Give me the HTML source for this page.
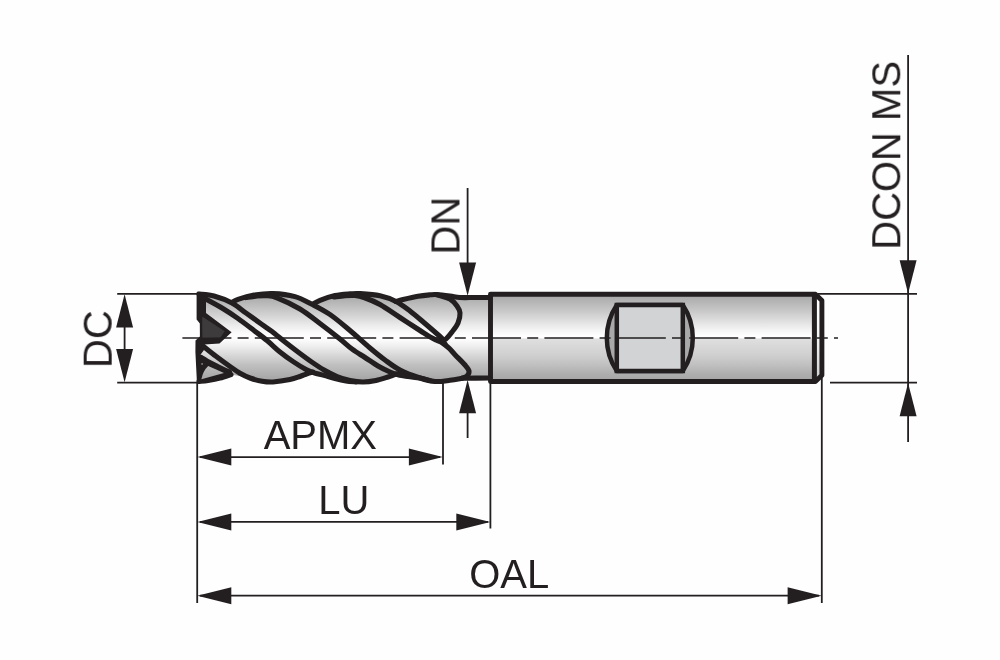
<!DOCTYPE html>
<html><head><meta charset="utf-8"><title>End mill dimensions</title>
<style>
html,body{margin:0;padding:0;background:#fefefe;}
body{width:1000px;height:660px;overflow:hidden;}
svg{display:block;}
text{font-family:"Liberation Sans",sans-serif;fill:#231f20;}
</style></head><body>
<svg width="1000" height="660" viewBox="0 0 1000 660">
<defs>
<linearGradient id="g" gradientUnits="userSpaceOnUse" x1="0" y1="292" x2="0" y2="384">
<stop offset="0" stop-color="#a5a5a6"/>
<stop offset="0.043" stop-color="#a8a8a9"/>
<stop offset="0.13" stop-color="#bababb"/>
<stop offset="0.196" stop-color="#c6c6c7"/>
<stop offset="0.30" stop-color="#dcdcdd"/>
<stop offset="0.41" stop-color="#f3f3f3"/>
<stop offset="0.48" stop-color="#ffffff"/>
<stop offset="0.497" stop-color="#ffffff"/>
<stop offset="0.512" stop-color="#dfdfe0"/>
<stop offset="0.576" stop-color="#d9d9da"/>
<stop offset="0.685" stop-color="#d0d0d1"/>
<stop offset="0.79" stop-color="#c0c0c1"/>
<stop offset="0.88" stop-color="#b0b0b1"/>
<stop offset="0.95" stop-color="#a6a6a7"/>
<stop offset="1" stop-color="#a2a2a3"/>
</linearGradient>
<linearGradient id="g2" gradientUnits="userSpaceOnUse" x1="0" y1="292" x2="0" y2="384">
<stop offset="0" stop-color="#a5a5a6"/>
<stop offset="0.043" stop-color="#a8a8a9"/>
<stop offset="0.13" stop-color="#bababb"/>
<stop offset="0.25" stop-color="#d2d2d3"/>
<stop offset="0.36" stop-color="#ebebec"/>
<stop offset="0.45" stop-color="#fbfbfb"/>
<stop offset="0.5" stop-color="#ffffff"/>
<stop offset="0.54" stop-color="#f8f8f8"/>
<stop offset="0.6" stop-color="#ececec"/>
<stop offset="0.685" stop-color="#d8d8d9"/>
<stop offset="0.79" stop-color="#c0c0c1"/>
<stop offset="0.935" stop-color="#a8a8a9"/>
<stop offset="1" stop-color="#a2a2a3"/>
</linearGradient>
<linearGradient id="g3" gradientUnits="userSpaceOnUse" x1="0" y1="298" x2="0" y2="378">
<stop offset="0" stop-color="#ffffff"/>
<stop offset="0.5" stop-color="#f4f4f4"/>
<stop offset="1" stop-color="#d0d0d1"/>
</linearGradient>
</defs>
<rect width="1000" height="660" fill="#fefefe"/>
<path d="M199.0,294.0 L214.0,296.0 L232.0,303.0 L238.0,299.3 L254.0,295.1 L273.0,293.6 L295.0,296.6 L312.0,304.3 L320.0,300.3 L335.0,295.6 L350.0,293.9 L360.0,293.6 L380.0,295.8 L396.0,301.5 L403.0,299.5 L418.0,296.2 L430.0,294.8 L437.0,294.6 L450.0,296.0 L460.0,297.5 L475.0,297.5 L490.0,297.5 L490.0,378.0 L462.0,378.3 L450.0,380.3 L435.0,381.5 L420.0,378.0 L398.0,373.6 L394.0,374.8 L388.0,377.0 L376.0,380.5 L363.0,382.0 L350.0,380.5 L337.0,376.5 L313.0,372.0 L307.0,373.8 L300.0,376.5 L290.0,379.6 L273.0,382.0 L262.0,381.2 L250.0,378.0 L231.0,374.5 L220.0,378.0 L208.0,380.4 L199.0,381.5 Z" fill="url(#g2)" stroke="none"/>
<rect x="490.5" y="294.2" width="324" height="87.5" fill="url(#g)"/>
<path d="M814.4,294.2 L816.5,294.2 L821.9,300 L821.9,376 L816.5,381.7 L814.4,381.7 Z" fill="url(#g3)"/>
<path d="M616.8,305 A59.5,59.5 0 0 0 616.8,371 L682.8,371 A59.5,59.5 0 0 0 682.8,305 Z" fill="#a9a9aa" stroke="#231f20" stroke-width="4.5" stroke-linejoin="round"/>
<rect x="616.8" y="305" width="66" height="66" fill="#d2d3d5" stroke="#231f20" stroke-width="4.5"/>
<path d="M182.4,338 H838" stroke="#231f20" stroke-width="1.6" stroke-dasharray="49 6.2 11 6.2" fill="none"/>
<path d="M199.00,294.00 C201.50,294.33 208.50,294.50 214.00,296.00 C219.50,297.50 226.67,300.17 232.00,303.00 C237.33,305.83 241.00,309.42 246.00,313.00 C251.00,316.58 257.67,321.42 262.00,324.50 C266.33,327.58 268.17,328.58 272.00,331.50 C275.83,334.42 280.67,338.58 285.00,342.00 C289.33,345.42 293.67,348.75 298.00,352.00 C302.33,355.25 306.67,358.50 311.00,361.50 C315.33,364.50 319.67,367.50 324.00,370.00 C328.33,372.50 332.67,374.75 337.00,376.50 C341.33,378.25 345.67,379.58 350.00,380.50 C354.33,381.42 358.67,382.00 363.00,382.00 C367.33,382.00 371.83,381.33 376.00,380.50 C380.17,379.67 385.00,377.95 388.00,377.00 C391.00,376.05 392.33,375.37 394.00,374.80 C395.67,374.23 397.33,373.80 398.00,373.60" fill="none" stroke="#231f20" stroke-width="5.10" stroke-linecap="round" stroke-linejoin="round" />
<path d="M232.00,302.50 C233.00,301.97 234.33,300.53 238.00,299.30 C241.67,298.07 248.17,296.05 254.00,295.10 C259.83,294.15 266.17,293.35 273.00,293.60 C279.83,293.85 288.50,294.82 295.00,296.60 C301.50,298.38 306.17,301.32 312.00,304.30 C317.83,307.28 323.67,310.13 330.00,314.50 C336.33,318.87 343.33,324.92 350.00,330.50 C356.67,336.08 364.17,343.08 370.00,348.00 C375.83,352.92 380.00,356.33 385.00,360.00 C390.00,363.67 394.17,367.00 400.00,370.00 C405.83,373.00 414.17,376.08 420.00,378.00 C425.83,379.92 430.00,381.12 435.00,381.50 C440.00,381.88 445.50,380.83 450.00,380.30 C454.50,379.77 460.00,378.63 462.00,378.30" fill="none" stroke="#231f20" stroke-width="5.10" stroke-linecap="round" stroke-linejoin="round" />
<path d="M313.00,304.20 C314.17,303.55 316.33,301.73 320.00,300.30 C323.67,298.87 330.00,296.67 335.00,295.60 C340.00,294.53 345.83,294.23 350.00,293.90 C354.17,293.57 355.00,293.28 360.00,293.60 C365.00,293.92 374.00,294.48 380.00,295.80 C386.00,297.12 391.00,298.97 396.00,301.50 C401.00,304.03 405.17,307.33 410.00,311.00 C414.83,314.67 420.00,319.25 425.00,323.50 C430.00,327.75 437.00,333.75 440.00,336.50 C443.00,339.25 442.50,339.42 443.00,340.00" fill="none" stroke="#231f20" stroke-width="5.10" stroke-linecap="round" stroke-linejoin="round" />
<path d="M396.00,301.50 C397.17,301.17 399.33,300.38 403.00,299.50 C406.67,298.62 413.50,296.98 418.00,296.20 C422.50,295.42 426.83,295.07 430.00,294.80 C433.17,294.53 433.67,294.40 437.00,294.60 C440.33,294.80 446.17,295.52 450.00,296.00 C453.83,296.48 455.83,297.25 460.00,297.50 C464.17,297.75 470.00,297.50 475.00,297.50 C480.00,297.50 487.50,297.50 490.00,297.50" fill="none" stroke="#231f20" stroke-width="5.10" stroke-linecap="round" stroke-linejoin="round" />
<path d="M203.00,346.00 C205.17,347.72 211.50,352.88 216.00,356.30 C220.50,359.72 226.00,363.67 230.00,366.50 C234.00,369.33 236.67,371.38 240.00,373.30 C243.33,375.22 246.33,376.68 250.00,378.00 C253.67,379.32 258.17,380.53 262.00,381.20 C265.83,381.87 268.33,382.27 273.00,382.00 C277.67,381.73 285.50,380.52 290.00,379.60 C294.50,378.68 297.17,377.47 300.00,376.50 C302.83,375.53 304.83,374.55 307.00,373.80 C309.17,373.05 312.00,372.30 313.00,372.00" fill="none" stroke="#231f20" stroke-width="5.10" stroke-linecap="round" stroke-linejoin="round" />
<path d="M199.00,381.50 C200.50,381.32 204.50,380.98 208.00,380.40 C211.50,379.82 216.17,378.98 220.00,378.00 C223.83,377.02 229.17,375.08 231.00,374.50" fill="none" stroke="#231f20" stroke-width="5.10" stroke-linecap="round" stroke-linejoin="round" />
<path d="M203.00,297.50 C206.17,299.25 216.17,304.50 222.00,308.00 C227.83,311.50 232.67,314.75 238.00,318.50 C243.33,322.25 249.17,326.83 254.00,330.50 C258.83,334.17 262.67,336.92 267.00,340.50 C271.33,344.08 275.67,348.50 280.00,352.00 C284.33,355.50 288.67,358.58 293.00,361.50 C297.33,364.42 302.50,367.62 306.00,369.50 C309.50,371.38 311.00,371.82 314.00,372.80 C317.00,373.78 320.33,374.38 324.00,375.40 C327.67,376.42 332.33,377.98 336.00,378.90 C339.67,379.82 342.67,380.40 346.00,380.90 C349.33,381.40 354.33,381.73 356.00,381.90" fill="none" stroke="#231f20" stroke-width="5.10" stroke-linecap="round" stroke-linejoin="round" />
<path d="M246.00,297.60 C247.67,297.35 252.67,296.42 256.00,296.10 C259.33,295.78 262.50,295.42 266.00,295.70 C269.50,295.98 271.33,295.58 277.00,297.80 C282.67,300.02 292.83,304.72 300.00,309.00 C307.17,313.28 313.33,318.50 320.00,323.50 C326.67,328.50 334.67,334.75 340.00,339.00 C345.33,343.25 347.83,345.92 352.00,349.00 C356.17,352.08 360.67,354.67 365.00,357.50 C369.33,360.33 373.83,363.58 378.00,366.00 C382.17,368.42 386.67,370.53 390.00,372.00 C393.33,373.47 395.00,374.03 398.00,374.80 C401.00,375.57 404.33,376.05 408.00,376.60 C411.67,377.15 416.33,377.43 420.00,378.10 C423.67,378.77 428.33,380.18 430.00,380.60" fill="none" stroke="#231f20" stroke-width="5.10" stroke-linecap="round" stroke-linejoin="round" />
<path d="M334.00,297.00 C335.83,296.77 341.50,295.85 345.00,295.60 C348.50,295.35 351.83,295.18 355.00,295.50 C358.17,295.82 359.83,296.00 364.00,297.50 C368.17,299.00 374.00,301.17 380.00,304.50 C386.00,307.83 393.33,313.17 400.00,317.50 C406.67,321.83 415.00,327.27 420.00,330.50 C425.00,333.73 427.23,335.28 430.00,336.90 C432.77,338.52 434.52,339.18 436.60,340.20 C438.68,341.22 440.43,341.67 442.50,343.00 C444.57,344.33 446.92,346.25 449.00,348.20 C451.08,350.15 452.33,351.90 455.00,354.70 C457.67,357.50 462.67,362.28 465.00,365.00 C467.33,367.72 468.67,369.17 469.00,371.00 C469.33,372.83 468.17,374.78 467.00,376.00 C465.83,377.22 462.83,377.92 462.00,378.30" fill="none" stroke="#231f20" stroke-width="5.10" stroke-linecap="round" stroke-linejoin="round" />
<path d="M438.00,295.00 C440.00,295.67 446.83,297.17 450.00,299.00 C453.17,300.83 455.33,303.67 457.00,306.00 C458.67,308.33 459.83,310.17 460.00,313.00 C460.17,315.83 459.33,319.83 458.00,323.00 C456.67,326.17 454.00,329.33 452.00,332.00 C450.00,334.67 447.67,337.42 446.00,339.00 C444.33,340.58 442.67,341.08 442.00,341.50" fill="none" stroke="#231f20" stroke-width="5.10" stroke-linecap="round" stroke-linejoin="round" />
<path d="M442.00,341.00 C442.50,341.50 444.50,343.50 445.00,344.00" fill="none" stroke="#231f20" stroke-width="5.10" stroke-linecap="round" stroke-linejoin="round" />
<path d="M462.00,378.30 C466.67,378.25 485.33,378.05 490.00,378.00" fill="none" stroke="#231f20" stroke-width="5.10" stroke-linecap="round" stroke-linejoin="round" />
<path d="M200.50,357.60 C201.58,358.25 204.58,360.15 207.00,361.50 C209.42,362.85 212.33,364.35 215.00,365.70 C217.67,367.05 220.67,368.50 223.00,369.60 C225.33,370.70 228.00,371.85 229.00,372.30" fill="none" stroke="#231f20" stroke-width="6.00" stroke-linecap="round" stroke-linejoin="round" />
<path d="M197.6,291.8 Q196.6,291.9 196.6,293 L196.6,319.5 L199.9,323.5 L199.9,336.5 L195.5,340.5 L195.4,352 L197,384 L199.5,384 L199.5,356 L204,350 L204,344.4 L219.5,343.5 L231.6,332.3 L206,313 L206,292.5 Z" fill="#231f20"/>
<path d="M202.6,317.3 L224.2,331.3 L220.5,337 L202.8,337.2 Z" fill="#3d3b3c" stroke="#3d3b3c" stroke-width="0.8" stroke-linejoin="round"/>
<path d="M197,356 L200,356 L210,364.5 L228,372.5 L231,375 L215,380.5 L199,383.5 L197,383.5 Z" fill="#231f20"/>
<path d="M201.4,379.2 Q203,371 208.2,366.1 L224,373 Z" fill="url(#g2)"/>
<circle cx="202.1" cy="363.9" r="0.9" fill="#8a8a8a"/>
<path d="M490.5,294.25 H815.4 L821.9,300.6 V375.3 L815.4,381.5 H490.5 Z" fill="none" stroke="#231f20" stroke-width="4.9" stroke-linejoin="round"/>
<path d="M814.4,294.2 V381.5" stroke="#231f20" stroke-width="5" fill="none"/>
<path d="M117.2,293.8 H197" stroke="#231f20" stroke-width="1.80" fill="none"/>
<path d="M117.2,382.6 H197" stroke="#231f20" stroke-width="1.80" fill="none"/>
<path d="M124.6,300 V376" stroke="#231f20" stroke-width="1.80" fill="none"/>
<polygon points="124.60,294.30 116.10,327.50 133.10,327.50" fill="#231f20"/>
<polygon points="124.60,382.20 116.10,349.00 133.10,349.00" fill="#231f20"/>
<path d="M197.2,383 V603" stroke="#231f20" stroke-width="1.80" fill="none"/>
<path d="M443,382 V464.5" stroke="#231f20" stroke-width="1.80" fill="none"/>
<path d="M490.4,383 V528.5" stroke="#231f20" stroke-width="1.80" fill="none"/>
<path d="M821.8,377 V603" stroke="#231f20" stroke-width="1.80" fill="none"/>
<path d="M200,457.1 H440" stroke="#231f20" stroke-width="1.80" fill="none"/>
<polygon points="197.30,457.10 231.30,448.60 231.30,465.60" fill="#231f20"/>
<polygon points="442.90,457.10 408.90,448.60 408.90,465.60" fill="#231f20"/>
<path d="M200,521.9 H488" stroke="#231f20" stroke-width="1.80" fill="none"/>
<polygon points="197.30,521.90 231.30,513.40 231.30,530.40" fill="#231f20"/>
<polygon points="490.30,521.90 456.30,513.40 456.30,530.40" fill="#231f20"/>
<path d="M200,595.7 H819" stroke="#231f20" stroke-width="1.80" fill="none"/>
<polygon points="197.30,595.70 231.30,587.20 231.30,604.20" fill="#231f20"/>
<polygon points="821.60,595.70 787.60,587.20 787.60,604.20" fill="#231f20"/>
<path d="M467.6,188 V290" stroke="#231f20" stroke-width="1.80" fill="none"/>
<polygon points="467.60,295.80 459.10,262.60 476.10,262.60" fill="#231f20"/>
<path d="M467.6,386 V438" stroke="#231f20" stroke-width="1.80" fill="none"/>
<polygon points="467.60,380.00 459.10,413.20 476.10,413.20" fill="#231f20"/>
<path d="M908.1,55 V442" stroke="#231f20" stroke-width="1.80" fill="none"/>
<polygon points="908.10,293.40 899.60,260.20 916.60,260.20" fill="#231f20"/>
<polygon points="908.10,383.00 899.60,416.20 916.60,416.20" fill="#231f20"/>
<path d="M818,293.8 H917" stroke="#231f20" stroke-width="1.80" fill="none"/>
<path d="M830,382.7 H917" stroke="#231f20" stroke-width="1.80" fill="none"/>
<g opacity="0.999">
<text transform="translate(263.70,449.00) scale(1,1.03)" font-size="40">APMX</text>
<text transform="translate(318.20,514.20) scale(1,1.03)" font-size="40">LU</text>
<text transform="translate(469.20,587.60) scale(1,1.03)" font-size="40">OAL</text>
<text transform="translate(111.80,368.10) rotate(-90) scale(1,1.03)" font-size="40">DC</text>
<text transform="translate(459.60,254.60) rotate(-90) scale(1,1.03)" font-size="40">DN</text>
<text transform="translate(900.40,249.80) rotate(-90) scale(1,1.03)" font-size="40">DCON MS</text>
</g>
</svg>
</body></html>
